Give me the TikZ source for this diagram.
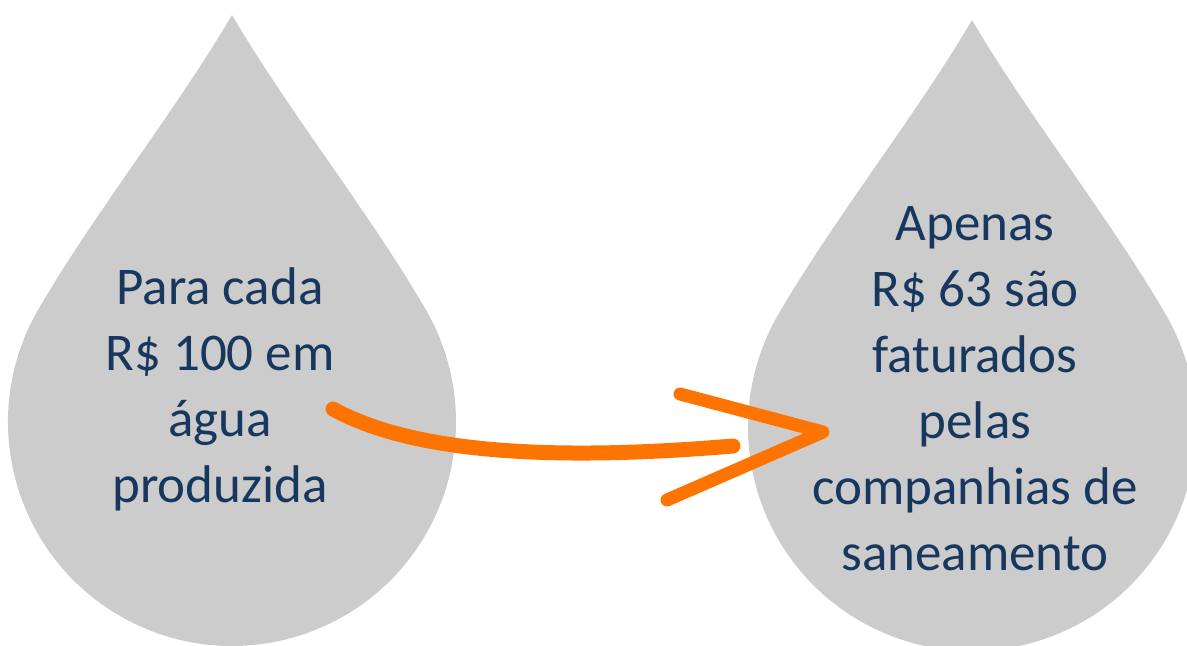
\documentclass[tikz,border=0pt]{standalone}
\usepackage{fontspec}
\setmainfont{Carlito}
\usetikzlibrary{positioning}

\definecolor{dropgray}{HTML}{CCCCCC}
\definecolor{textnavy}{HTML}{17375E}
\definecolor{penorange}{HTML}{FF7400}

\begin{document}
\begin{tikzpicture}[x=0.5pt, y=0.5pt,
    gota/.pic={
      \fill[dropgray] (0,407) .. controls (-55,313) and (-139,207) .. (150:224)
        arc[start angle=150, end angle=390, radius=224]
        .. controls (139,207) and (55,313) .. (0,407) -- cycle;
    },
    droptext/.style={align=center, text=textnavy, font=\fontsize{26.5}{33}\selectfont},
    stroke/.style={draw=penorange, line cap=round, line join=round}]
    \useasboundingbox (0,0) rectangle (1187,646);

    % the two drops
    \pic at (232,224) {gota};
    \pic at (972,219) {gota};

    \node[droptext] (para) at (220,257) {Para cada\\R\$ 100 em\\água\\produzida};
    \node[droptext] (apenas) at (975,257) {Apenas\\R\$ 63 são\\faturados\\pelas\\companhias de\\saneamento};

    \coordinate (tail) at (333,237);
    \coordinate (shaftend) at (733,200);
    \coordinate (upper) at (680,252);
    \coordinate (tip) at (823,214);
    \coordinate (lower) at (667,146);

    \draw[stroke, line width=7.5pt] (tail) .. controls (400,200) and (520,182) .. (shaftend);
    \draw[stroke, line width=6.5pt] (upper) -- (tip) -- (lower);

\end{tikzpicture}
\end{document}
